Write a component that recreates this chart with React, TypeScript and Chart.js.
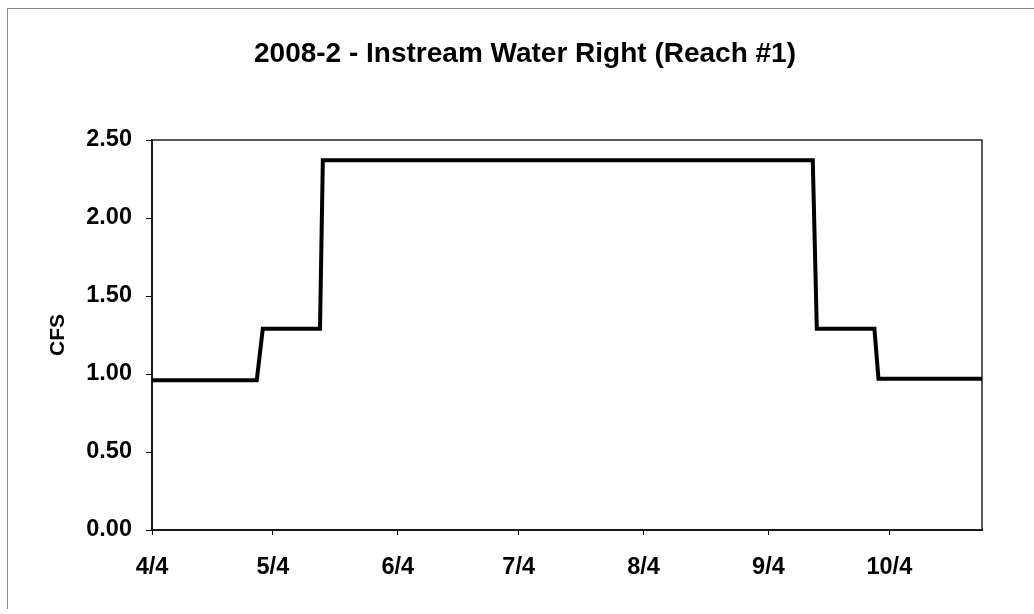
import React, { useEffect, useRef } from "react";
import { Chart, registerables } from "chart.js";

Chart.register(...registerables);

const TITLE = "2008-2 - Instream Water Right (Reach #1)";
const Y_TITLE = "CFS";

// x axis: days since 4/4
const tickDays = [0, 30, 61, 91, 122, 153, 183];
const tickLabels = ["4/4", "5/4", "6/4", "7/4", "8/4", "9/4", "10/4"];
const X_MAX = 206;

// y axis
const Y_MAX = 2.5;
const Y_STEP = 0.5;

// series (step-like instream flow)
const days = [0, 26, 27.5, 41.7, 42.4, 164, 165, 179.3, 180.3, 206];
const cfs = [0.96, 0.96, 1.29, 1.29, 2.37, 2.37, 1.29, 1.29, 0.97, 0.97];

const FONT = "'Liberation Sans', Arial, Helvetica, sans-serif";

export default function App() {
  const ref = useRef<HTMLCanvasElement>(null);

  useEffect(() => {
    const frame = {
      id: "plotFrame",
      beforeDatasetsDraw(chart: any) {
        const { ctx, chartArea } = chart;
        const { left, top, right, bottom } = chartArea;
        ctx.save();
        ctx.strokeStyle = "#222";
        ctx.lineWidth = 1.5;
        ctx.strokeRect(left, top, right - left, bottom - top);
        ctx.restore();
      },
    };

    const tickFont = { family: FONT, size: 23.5, weight: "bold" as const };

    const chart = new Chart(ref.current as HTMLCanvasElement, {
      type: "line",
      data: {
        datasets: [
          {
            data: days.map((d, i) => ({ x: d, y: cfs[i] })),
            borderColor: "#000",
            borderWidth: 4,
            pointRadius: 0,
            tension: 0,
            fill: false,
            borderJoinStyle: "miter",
          },
        ],
      },
      options: {
        responsive: false,
        animation: false,
        layout: { padding: { left: 16, right: 0, top: 0, bottom: 0 } },
        plugins: {
          legend: { display: false },
          tooltip: { enabled: false },
          title: {
            display: true,
            text: TITLE,
            color: "#000",
            font: { family: FONT, size: 28, weight: "bold", lineHeight: 1.2 },
            padding: { top: 37, bottom: 69.4 },
          },
        },
        scales: {
          x: {
            type: "linear",
            min: 0,
            max: X_MAX,
            afterBuildTicks: (s: any) => {
              s.ticks = tickDays.map((v) => ({ value: v }));
            },
            ticks: {
              autoSkip: false,
              maxRotation: 0,
              color: "#000",
              font: tickFont,
              padding: 18,
              callback: (v: any) => {
                const i = tickDays.indexOf(Number(v));
                return i >= 0 ? tickLabels[i] : "";
              },
            },
            grid: { drawOnChartArea: false, drawTicks: true, tickLength: 5, color: "#000" },
            border: { display: true, color: "#000", width: 2 },
            afterFit: (s: any) => {
              s.height = 84;
            },
          },
          y: {
            min: 0,
            max: Y_MAX,
            ticks: {
              stepSize: Y_STEP,
              color: "#000",
              font: tickFont,
              padding: 14,
              callback: (v: any) => Number(v).toFixed(2),
            },
            grid: { drawOnChartArea: false, drawTicks: true, tickLength: 6, color: "#000" },
            border: { display: true, color: "#000", width: 2 },
            title: {
              display: true,
              text: Y_TITLE,
              color: "#000",
              font: { family: FONT, size: 21, weight: "bold", lineHeight: 1.2 },
              padding: { top: 30, bottom: 0 },
            },
            afterFit: (s: any) => {
              s.width = 136;
            },
          },
          y2: {
            position: "right",
            display: true,
            ticks: { display: false },
            grid: { display: false },
            border: { display: false },
            afterFit: (s: any) => {
              s.width = 52;
            },
          },
        },
      },
      plugins: [frame],
    } as any);

    return () => chart.destroy();
  }, []);

  return (
    <div style={{ position: "absolute", left: 0, top: 0, width: 1034, height: 614, background: "#fff", overflow: "hidden" }}>
      <div
        style={{
          position: "absolute",
          left: 7,
          top: 8,
          width: 1040,
          height: 600,
          borderTop: "1.5px solid #888",
          borderLeft: "1.5px solid #888",
        }}
      />
      <canvas ref={ref} width={1034} height={614} style={{ position: "absolute", left: 0, top: 0 }} />
    </div>
  );
}
